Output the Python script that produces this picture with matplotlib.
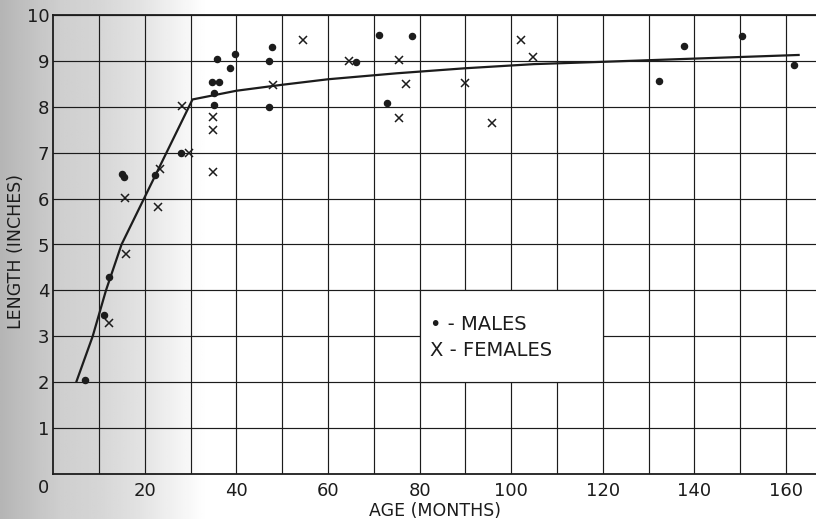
import numpy as np
import matplotlib
matplotlib.use("Agg")
import matplotlib.pyplot as plt
from matplotlib.patches import Rectangle

# ---- data ----
male_age = [6.9, 11.1, 12.1, 14.9, 15.5, 22.1, 27.9, 35.0, 35.0, 34.7, 36.1, 35.7,
            38.5, 39.6, 47.2, 47.2, 47.8, 66.2, 71.2, 72.8, 78.3, 132.3, 137.8,
            150.5, 161.8]
male_len = [2.05, 3.47, 4.30, 6.54, 6.46, 6.52, 6.99, 8.05, 8.30, 8.53, 8.53, 9.05,
            8.85, 9.15, 8.00, 9.00, 9.30, 8.97, 9.57, 8.08, 9.55, 8.57, 9.32,
            9.54, 8.92]

female_age = [12.2, 15.8, 15.6, 22.9, 23.2, 28.0, 29.7, 34.9, 34.9, 34.9, 47.9,
              54.5, 64.6, 75.5, 77.0, 75.5, 90.0, 95.7, 102.2, 104.8]
female_len = [3.28, 4.80, 6.01, 5.81, 6.65, 8.02, 6.99, 7.77, 7.50, 6.57, 8.47,
              9.45, 9.00, 9.02, 8.49, 7.75, 8.52, 7.64, 9.46, 9.09]

curve_age = [5.0, 8.6, 11.5, 14.9, 30.4, 40, 50, 60, 75, 90, 105, 120, 140, 163]
curve_len = [2.0, 3.0, 4.0, 5.0, 8.16, 8.35, 8.48, 8.60, 8.73, 8.84, 8.93, 8.98, 9.05, 9.13]

x_ticks = [20, 40, 60, 80, 100, 120, 140, 160]
x_tick_labels = ["20", "40", "60", "80", "100", "120", "140", "160"]
y_ticks = list(range(1, 11))
y_tick_labels = [str(v) for v in y_ticks]

legend_lines = ["\u2022 - MALES", "X - FEMALES"]

# ---- figure ----
W, H = 816, 519
fig = plt.figure(figsize=(W / 100, H / 100), dpi=100)
fig.patch.set_facecolor("white")

# scanned-page shading on the left
bg = fig.add_axes([0, 0, 1, 1], zorder=-10)
xs = np.linspace(0, W, 400)
shade = np.interp(xs, [0, 40, 60, 100, 140, 175, 205], [0.71, 0.78, 0.81, 0.84, 0.89, 0.95, 1.0])
bg.imshow(np.tile(shade, (10, 1)), aspect="auto", extent=[0, 1, 0, 1],
          cmap="gray", vmin=0, vmax=1, interpolation="bilinear")
bg.axis("off")

x0_px, x1_px = 53.3, 816
y_top_px, y_bot_px = 15, 474
px_per_month = (786 - 53.3) / 160
ax = fig.add_axes([x0_px / W, (H - y_bot_px) / H, (x1_px - x0_px) / W, (y_bot_px - y_top_px) / H])
ax.set_facecolor("none")
ax.set_xlim(0, (x1_px - x0_px) / px_per_month)
ax.set_ylim(0, 10)

ink = "#1c1c1c"
ax.set_xticks(x_ticks)
ax.set_xticks(np.arange(10, 170, 20), minor=True)
ax.set_xticklabels(x_tick_labels)
ax.set_yticks(y_ticks)
ax.set_yticklabels(y_tick_labels)
ax.tick_params(which="both", length=0, colors=ink, labelsize=13)
ax.tick_params(axis="x", pad=6)
ax.tick_params(axis="y", pad=3)
ax.set_axisbelow(True)
ax.grid(which="both", color=ink, lw=0.85)
for s in ["left", "bottom", "top"]:
    ax.spines[s].set_color(ink)
    ax.spines[s].set_linewidth(1.3)
ax.spines["right"].set_visible(False)

ax.annotate("0", xy=(0, 0), xytext=(-7, -10), textcoords="offset points",
            ha="center", va="center", fontsize=13, color=ink)

ax.set_xlabel("AGE (MONTHS)", fontsize=12.5, color=ink, labelpad=1)
ax.set_ylabel("LENGTH (INCHES)", fontsize=12.5, color=ink)
ax.yaxis.set_label_coords(-0.037, 0.484)

# legend panel (blank box over the grid)
ax.add_patch(Rectangle((80, 2), 40, 2, facecolor="white", edgecolor=ink, lw=0.85, zorder=1.5))
ax.text(82.3, 3.25, legend_lines[0], fontsize=14, fontweight="medium", color=ink,
        va="center", ha="left", zorder=3)
ax.text(82.3, 2.70, legend_lines[1], fontsize=14, fontweight="medium", color=ink,
        va="center", ha="left", zorder=3)

ax.plot(curve_age, curve_len, color=ink, lw=1.6, zorder=3, solid_capstyle="butt")
ax.plot(male_age, male_len, "o", color=ink, ms=4.4, zorder=4)
ax.plot(female_age, female_len, "x", color=ink, ms=5.5, mew=1.1, zorder=4)

fig.savefig("out.png", dpi=100)
